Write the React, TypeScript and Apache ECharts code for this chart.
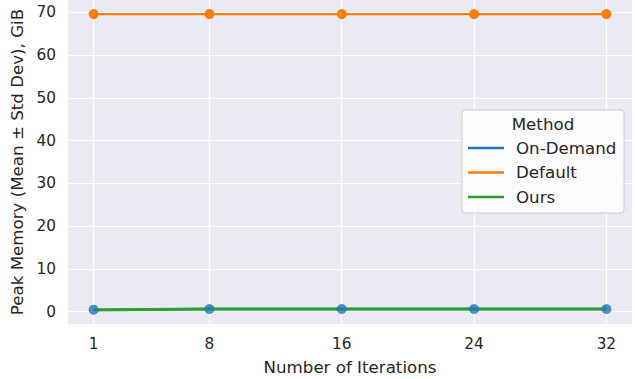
import React, { useEffect, useRef } from "react";
import * as echarts from "echarts";

const iterations = [1, 8, 16, 24, 32];
const onDemand = [0.45, 0.6, 0.6, 0.6, 0.6];
const defaultMem = [69.6, 69.6, 69.6, 69.6, 69.6];
const ours = [0.4, 0.6, 0.6, 0.6, 0.6];
const methods = ["On-Demand", "Default", "Ours"];
const colors = ["#1f77b4", "#ff7f0e", "#2ca02c"];
const yTicks = [0, 10, 20, 30, 40, 50, 60, 70];

const FONT = "DejaVu Sans";
const TXT = "#262626";
const TICK_FS = 15.3;
const LABEL_FS = 16.67;

export default function App() {
  const ref = useRef<HTMLDivElement>(null);
  useEffect(() => {
    const chart = echarts.init(ref.current!, null, { renderer: "svg" });
    const pts = (arr: number[]) => iterations.map((x, i) => [x, arr[i]]);
    const legendX = 462;
    const legendY = 110;
    const legendItems: any[] = [
      {
        type: "rect",
        shape: { x: legendX, y: legendY, width: 162, height: 103, r: 3 },
        style: { fill: "rgba(255,255,255,0.8)", stroke: "#cccccc", lineWidth: 1 },
        z: 10,
      },
      {
        type: "text",
        style: {
          x: legendX + 81,
          y: legendY + 14,
          text: "Method",
          fill: TXT,
          font: `${LABEL_FS}px '${FONT}'`,
          align: "center",
          verticalAlign: "middle",
        },
        z: 11,
      },
    ];
    methods.forEach((m, i) => {
      const cy = legendY + 38 + i * 24.5;
      legendItems.push({
        type: "rect",
        shape: { x: legendX + 6, y: cy - 1.2, width: 36, height: 2.4 },
        style: { fill: colors[i] },
        z: 11,
      });
      legendItems.push({
        type: "text",
        style: {
          x: legendX + 54,
          y: cy,
          text: m,
          fill: TXT,
          font: `${LABEL_FS}px '${FONT}'`,
          align: "left",
          verticalAlign: "middle",
        },
        z: 11,
      });
    });
    chart.setOption({
      animation: false,
      backgroundColor: "#ffffff",
      textStyle: { fontFamily: FONT },
      grid: {
        left: 68,
        right: 3,
        top: 0,
        bottom: 55,
        show: true,
        backgroundColor: "#eaeaf2",
        borderWidth: 0,
        containLabel: false,
        outerBoundsMode: "none",
      },
      xAxis: {
        type: "value",
        min: -0.55,
        max: 33.55,
        name: "Number of Iterations",
        nameLocation: "middle",
        nameGap: 35,
        nameTextStyle: { color: TXT, fontSize: LABEL_FS, fontFamily: FONT },
        axisLine: { show: false },
        axisTick: { show: false, customValues: iterations },
        axisLabel: { customValues: iterations, color: TXT, fontSize: TICK_FS, fontFamily: FONT, margin: 12 },
        splitLine: { show: true, lineStyle: { color: "#ffffff", width: 1.2 } },
      },
      yAxis: {
        type: "value",
        min: -2.9,
        max: 72.9,
        name: "Peak Memory (Mean ± Std Dev), GiB",
        nameLocation: "middle",
        nameGap: 41,
        nameTextStyle: { color: TXT, fontSize: LABEL_FS, fontFamily: FONT },
        axisLine: { show: false },
        axisTick: { show: false, customValues: yTicks },
        axisLabel: { customValues: yTicks, color: TXT, fontSize: TICK_FS, fontFamily: FONT, margin: 12 },
        splitLine: { show: true, lineStyle: { color: "#ffffff", width: 1.2 } },
      },
      series: [
        {
          name: methods[0],
          type: "line",
          data: pts(onDemand),
          symbol: "none",
          lineStyle: { color: colors[0], width: 2.4 },
          z: 2,
        },
        {
          name: methods[1],
          type: "line",
          data: pts(defaultMem),
          symbol: "circle",
          symbolSize: 10,
          itemStyle: { color: colors[1] },
          lineStyle: { color: colors[1], width: 2.4 },
          z: 3,
        },
        {
          name: methods[2],
          type: "line",
          data: pts(ours),
          symbol: "none",
          lineStyle: { color: colors[2], width: 3 },
          z: 4,
        },
        {
          name: methods[0] + " markers",
          type: "scatter",
          data: pts(onDemand),
          symbol: "circle",
          symbolSize: 10,
          itemStyle: { color: colors[0] },
          z: 5,
        },
      ],
      graphic: legendItems,
    });
    return () => chart.dispose();
  }, []);
  return <div ref={ref} style={{ position: "fixed", left: 0, top: 0, width: 635, height: 379 }} />;
}
